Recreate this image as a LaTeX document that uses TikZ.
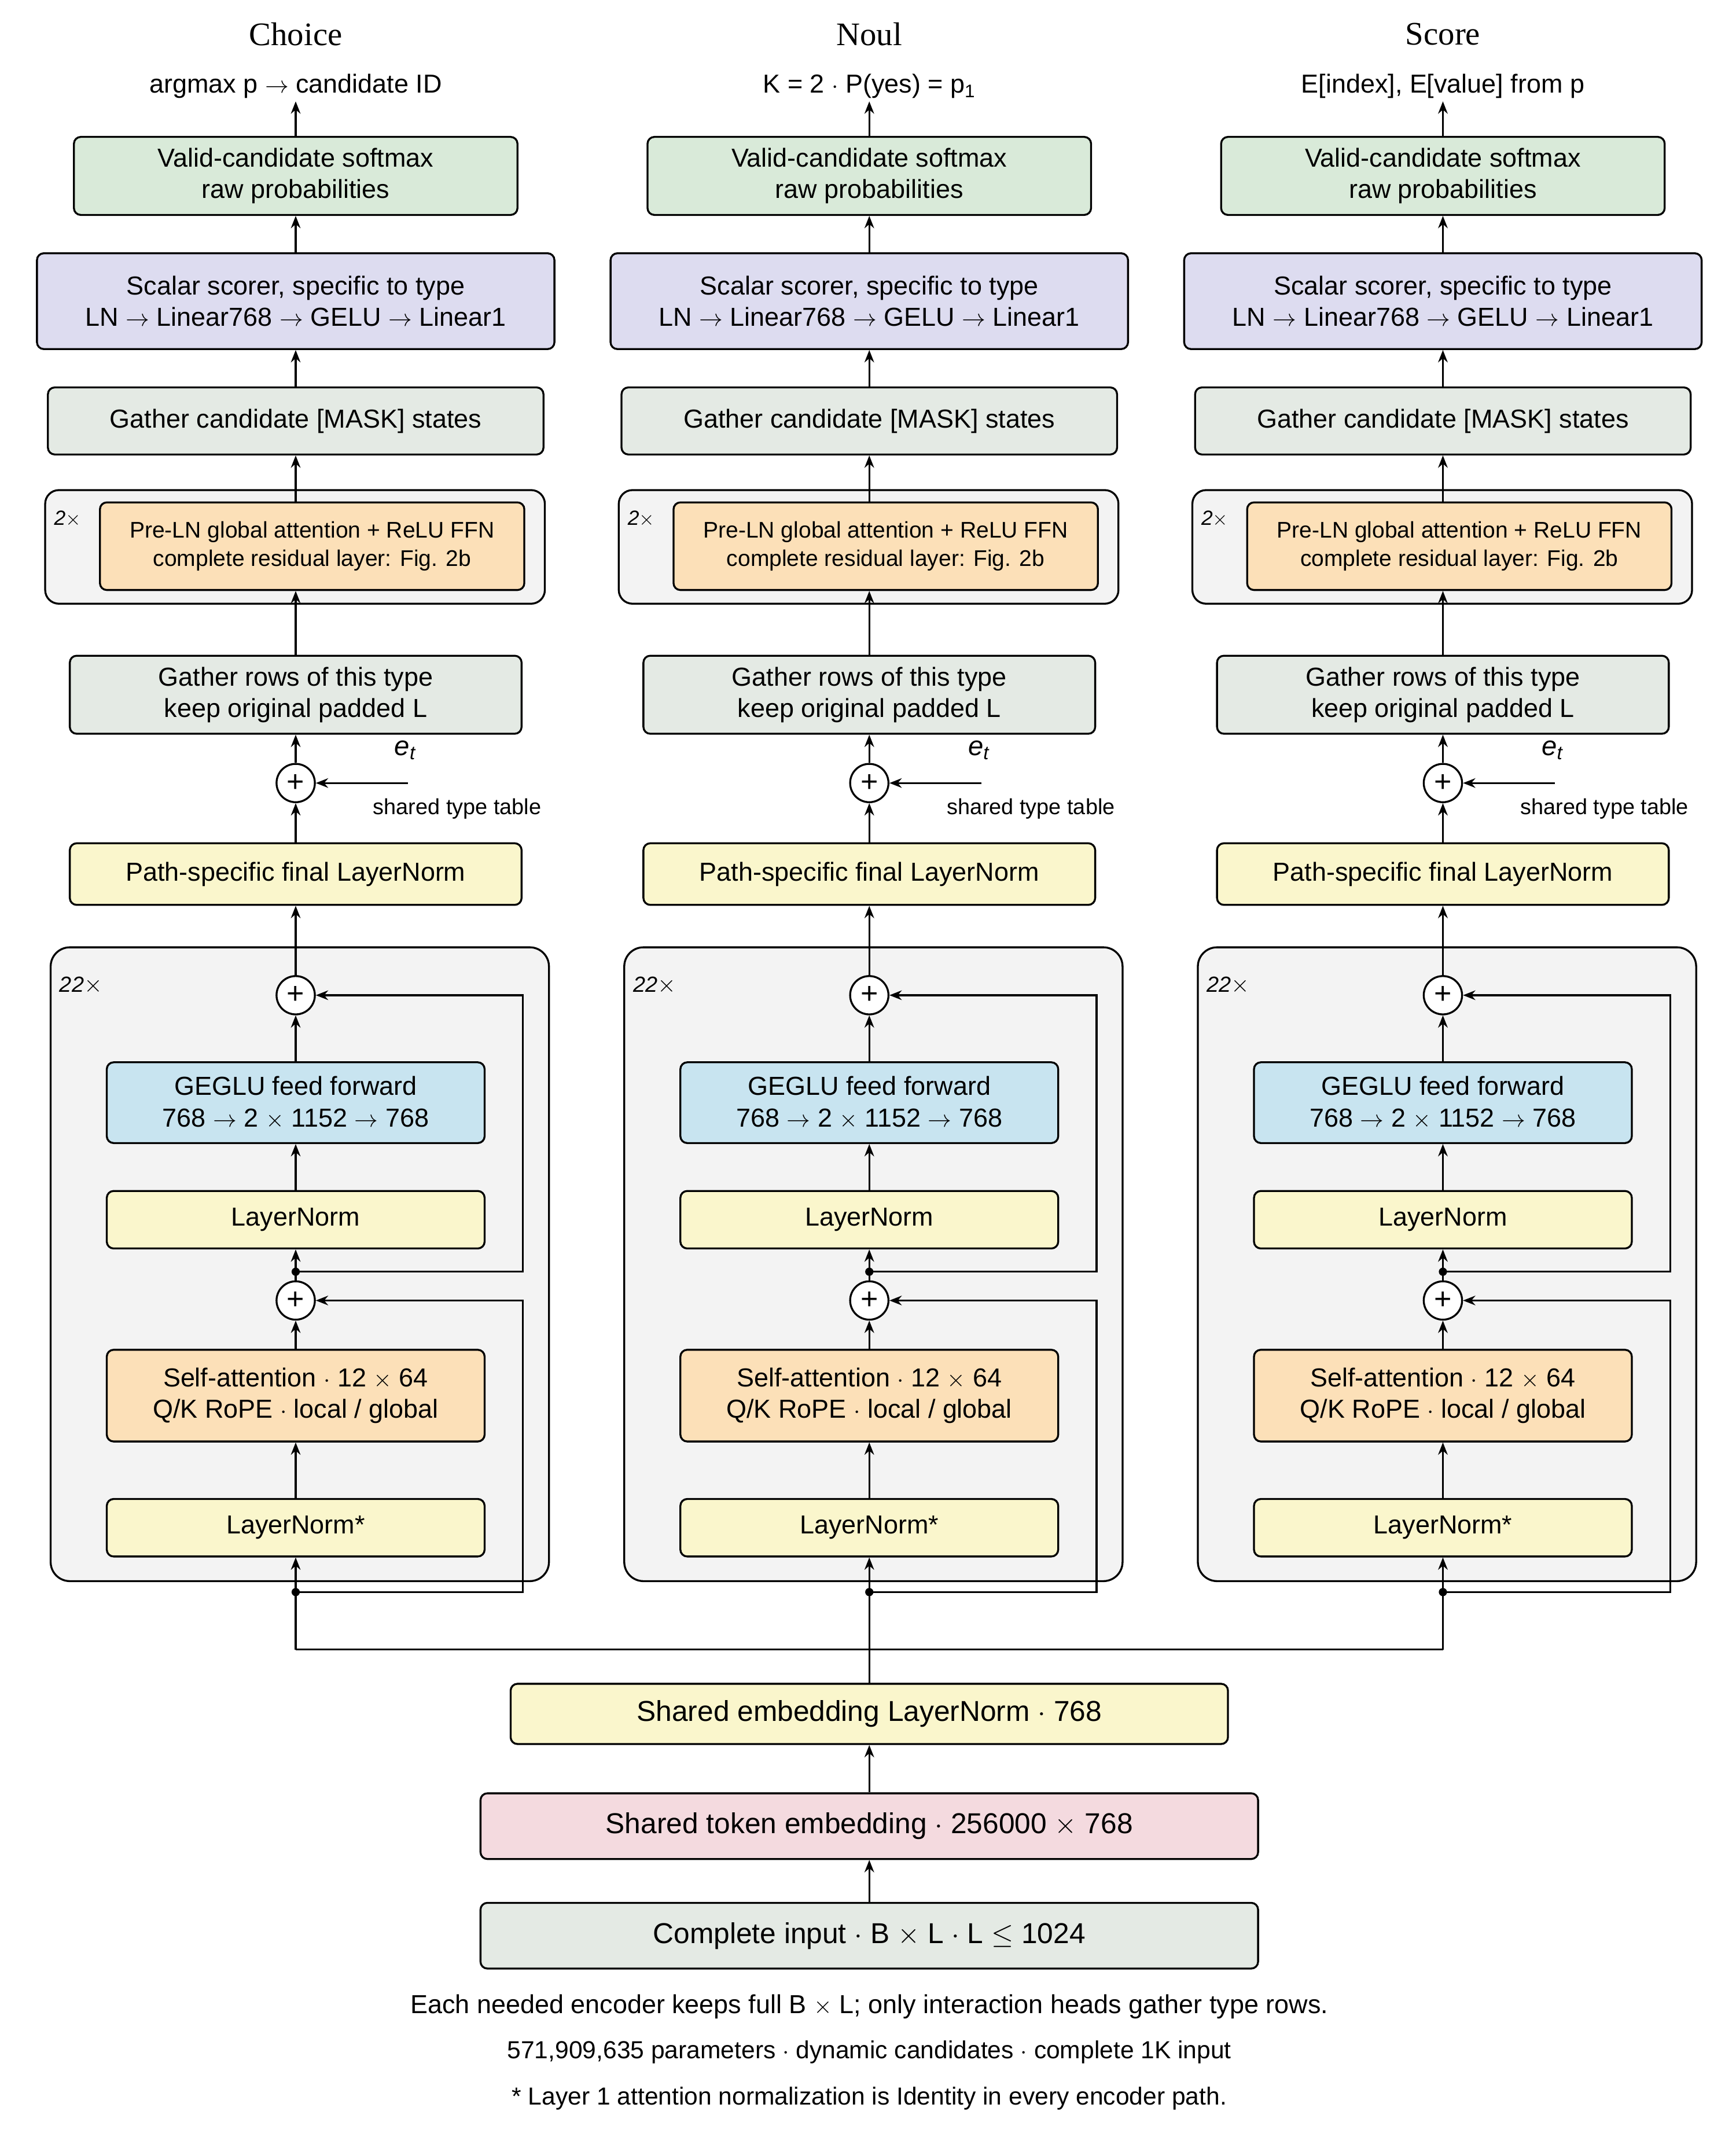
\documentclass[tikz,border=0pt]{standalone}
\usepackage{fontspec}
\setmainfont{Liberation Sans}
\newfontfamily\serifx{Liberation Serif}
\usetikzlibrary{arrows.meta,calc}
\definecolor{cgreen}{HTML}{D9EAD9}
\definecolor{cpurp}{HTML}{DDDCF0}
\definecolor{cgg}{HTML}{E4EAE4}
\definecolor{corange}{HTML}{FCE0B8}
\definecolor{cyellow}{HTML}{FAF6CC}
\definecolor{cblue}{HTML}{C8E4F0}
\definecolor{cpink}{HTML}{F4DADF}
\definecolor{ccont}{HTML}{F3F3F3}
\begin{document}
\begin{tikzpicture}[x=1pt,y=-1pt,
 box/.style={draw,line width=1.4pt,rounded corners=5pt,align=center,inner sep=0pt,font=\fontsize{19}{23}\selectfont},
 cont/.style={draw,line width=1.4pt,rounded corners=14pt,fill=ccont},
 arr/.style={line width=1.4pt,-{Stealth[length=9pt,width=7pt]}},
 ln/.style={line width=1.4pt},
 plus/.style={draw,circle,line width=1.4pt,fill=white,minimum size=28pt,inner sep=0pt,font=\fontsize{22}{22}\selectfont},
 dot/.style={circle,fill,inner sep=0pt,minimum size=6pt}]
\useasboundingbox (0,0) rectangle (1268,1564);
\fill[white] (0,0) rectangle (1268,1564);
\foreach \i/\t/\o in {0/Choice/{argmax p $\rightarrow$ candidate ID},1/Noul/{K = 2 $\cdot$ P(yes) = p\textsubscript{1}},2/Score/{E[index], E[value] from p}}{
\begin{scope}[xshift=\i*419]
\node[font=\serifx\fontsize{24}{24}\selectfont] (ttl\i) at (216,25) {\t};
\node[font=\fontsize{19}{19}\selectfont,inner sep=2pt] (out\i) at (216,63) {\o};
\node[box,fill=cgreen,minimum width=324pt,minimum height=57pt] (val\i) at (216,128.5) {Valid-candidate softmax\\raw probabilities};
\node[box,fill=cpurp,minimum width=378pt,minimum height=70pt] (sc\i) at (216,220) {Scalar scorer, specific to type\\LN $\rightarrow$ Linear768 $\rightarrow$ GELU $\rightarrow$ Linear1};
\node[box,fill=cgg,minimum width=362pt,minimum height=49pt] (gc\i) at (216,307.5) {Gather candidate [MASK] states};
\node[cont,rounded corners=10pt,minimum width=365pt,minimum height=83pt] (c2\i) at (215.5,399.5) {};
\node[font=\itshape\fontsize{15}{15}\selectfont,anchor=west] (n2\i) at (36,379) {2$\times$};
\node[box,fill=corange,minimum width=310pt,minimum height=64pt,font=\fontsize{16.5}{21}\selectfont] (pl\i) at (228,399) {Pre-LN global attention + ReLU FFN\\complete residual layer: Fig. 2b};
\node[box,fill=cgg,minimum width=330pt,minimum height=57pt] (gr\i) at (216,507.5) {Gather rows of this type\\keep original padded L};
\node[plus] (pt\i) at (216,572) {+};
\coordinate (et\i) at (298,572);
\node[font=\itshape\fontsize{20}{20}\selectfont] (etl\i) at (296,548) {e\textsubscript{t}};
\node[font=\fontsize{16}{16}\selectfont] (stt\i) at (334,591) {shared type table};
\node[box,fill=cyellow,minimum width=330pt,minimum height=45pt] (pf\i) at (216,638.5) {Path-specific final LayerNorm};
\node[cont,minimum width=364pt,minimum height=463pt] (c22\i) at (219,923.5) {};
\node[font=\itshape\fontsize{16}{16}\selectfont,anchor=west] (n22\i) at (40,720) {22$\times$};
\node[plus] (p1\i) at (216,727) {+};
\node[box,fill=cblue,minimum width=276pt,minimum height=59pt] (ff\i) at (216,805.5) {GEGLU feed forward\\768 $\rightarrow$ 2 $\times$ 1152 $\rightarrow$ 768};
\node[box,fill=cyellow,minimum width=276pt,minimum height=42pt] (ln\i) at (216,891) {LayerNorm};
\node[dot] (d1\i) at (216,929) {};
\node[plus] (p2\i) at (216,950) {+};
\node[box,fill=corange,minimum width=276pt,minimum height=67pt] (sa\i) at (216,1019.5) {Self-attention $\cdot$ 12 $\times$ 64\\Q/K RoPE $\cdot$ local / global};
\node[box,fill=cyellow,minimum width=276pt,minimum height=42pt] (lns\i) at (216,1116) {LayerNorm*};
\node[dot] (d2\i) at (216,1163) {};
\coordinate (br\i) at (216,1205);
\draw[arr] (val\i.north) -- (out\i.south);
\draw[arr] (sc\i.north) -- (val\i.south);
\draw[arr] (gc\i.north) -- (sc\i.south);
\draw[arr] (pl\i.north -| gc\i.south) -- (gc\i.south);
\draw[arr] (gr\i.north) -- (pl\i.south -| gr\i.north);
\draw[arr] (pt\i.north) -- (gr\i.south);
\draw[arr] (et\i) -- (pt\i.east);
\draw[arr] (pf\i.north) -- (pt\i.south);
\draw[arr] (p1\i.north) -- (pf\i.south);
\draw[arr] (ff\i.north) -- (p1\i.south);
\draw[arr] (ln\i.north) -- (ff\i.south);
\draw[arr] (p2\i.north) -- (ln\i.south);
\draw[arr] (sa\i.north) -- (p2\i.south);
\draw[arr] (lns\i.north) -- (sa\i.south);
\draw[arr] (br\i) -- (lns\i.south);
\draw[arr] (d1\i.center) -- (382,929) -- (382,727) -- (p1\i.east);
\draw[arr] (d2\i.center) -- (382,1163) -- (382,950) -- (p2\i.east);
\end{scope}}
\node[box,fill=cyellow,minimum width=524pt,minimum height=44pt,font=\fontsize{21}{21}\selectfont] (sel) at (635,1252) {Shared embedding LayerNorm $\cdot$ 768};
\node[box,fill=cpink,minimum width=568pt,minimum height=48pt,font=\fontsize{21}{21}\selectfont] (ste) at (635,1334) {Shared token embedding $\cdot$ 256000 $\times$ 768};
\node[box,fill=cgg,minimum width=568pt,minimum height=48pt,font=\fontsize{21}{21}\selectfont] (inp) at (635,1414) {Complete input $\cdot$ B $\times$ L $\cdot$ L $\leq$ 1024};
\draw[arr] (inp.north) -- (ste.south);
\draw[arr] (ste.north) -- (sel.south);
\draw[ln] (sel.north) -- (br1);
\draw[ln] (br0) -- (br2);
\node[font=\fontsize{19}{19}\selectfont] (f1) at (635,1466) {Each needed encoder keeps full B $\times$ L; only interaction heads gather type rows.};
\node[font=\fontsize{18}{18}\selectfont] (f2) at (635,1499) {571,909,635 parameters $\cdot$ dynamic candidates $\cdot$ complete 1K input};
\node[font=\fontsize{18}{18}\selectfont] (f3) at (635,1533) {* Layer 1 attention normalization is Identity in every encoder path.};
\end{tikzpicture}
\end{document}
